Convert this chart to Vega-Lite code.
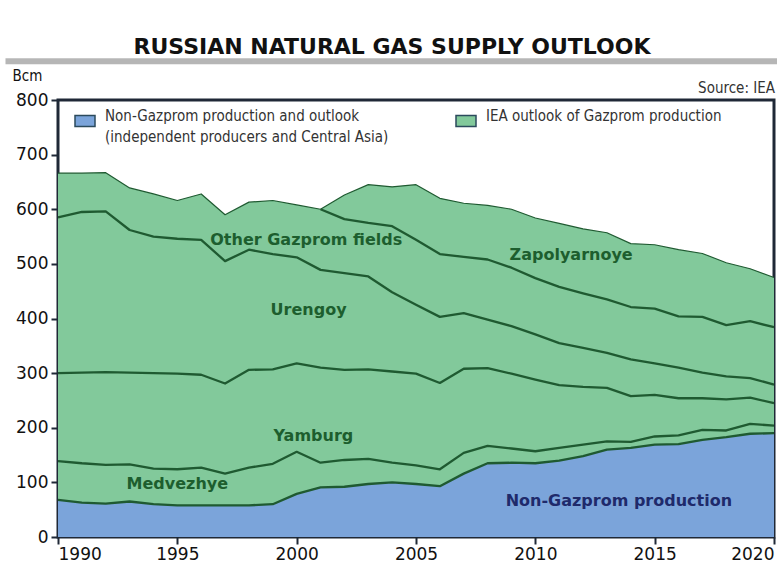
{
  "$schema": "https://vega.github.io/schema/vega-lite/v6.json",
  "width": 716,
  "height": 437,
  "autosize": {"type": "none"},
  "padding": {"left": 58, "top": 100, "right": 3, "bottom": 30},
  "background": "#ffffff",
  "title": {
    "text": "RUSSIAN NATURAL GAS SUPPLY OUTLOOK",
    "font": "DejaVu Sans",
    "fontWeight": "bold",
    "fontSize": 22,
    "color": "#111111",
    "anchor": "middle",
    "frame": "group",
    "dx": -24,
    "offset": -1
  },
  "config": {
    "view": {"stroke": "#1f2836", "strokeWidth": 3},
    "style": {"guide-label": {"lineHeight": 21}}
  },
  "datasets": {
    "gas": [
      {"year":1990,"field":"Non-Gazprom","source":"Non-Gazprom production and outlook","value":68},
      {"year":1990,"field":"Medvezhye","source":"IEA outlook of Gazprom production","value":71},
      {"year":1990,"field":"Yamburg","source":"IEA outlook of Gazprom production","value":161},
      {"year":1990,"field":"Urengoy","source":"IEA outlook of Gazprom production","value":285},
      {"year":1990,"field":"Other Gazprom fields","source":"IEA outlook of Gazprom production","value":81},
      {"year":1990,"field":"Zapolyarnoye","source":"IEA outlook of Gazprom production","value":0},
      {"year":1991,"field":"Non-Gazprom","source":"Non-Gazprom production and outlook","value":63},
      {"year":1991,"field":"Medvezhye","source":"IEA outlook of Gazprom production","value":72},
      {"year":1991,"field":"Yamburg","source":"IEA outlook of Gazprom production","value":166},
      {"year":1991,"field":"Urengoy","source":"IEA outlook of Gazprom production","value":294},
      {"year":1991,"field":"Other Gazprom fields","source":"IEA outlook of Gazprom production","value":71},
      {"year":1991,"field":"Zapolyarnoye","source":"IEA outlook of Gazprom production","value":0},
      {"year":1992,"field":"Non-Gazprom","source":"Non-Gazprom production and outlook","value":61},
      {"year":1992,"field":"Medvezhye","source":"IEA outlook of Gazprom production","value":71},
      {"year":1992,"field":"Yamburg","source":"IEA outlook of Gazprom production","value":170},
      {"year":1992,"field":"Urengoy","source":"IEA outlook of Gazprom production","value":294},
      {"year":1992,"field":"Other Gazprom fields","source":"IEA outlook of Gazprom production","value":71},
      {"year":1992,"field":"Zapolyarnoye","source":"IEA outlook of Gazprom production","value":0},
      {"year":1993,"field":"Non-Gazprom","source":"Non-Gazprom production and outlook","value":65},
      {"year":1993,"field":"Medvezhye","source":"IEA outlook of Gazprom production","value":68},
      {"year":1993,"field":"Yamburg","source":"IEA outlook of Gazprom production","value":168},
      {"year":1993,"field":"Urengoy","source":"IEA outlook of Gazprom production","value":261},
      {"year":1993,"field":"Other Gazprom fields","source":"IEA outlook of Gazprom production","value":77},
      {"year":1993,"field":"Zapolyarnoye","source":"IEA outlook of Gazprom production","value":0},
      {"year":1994,"field":"Non-Gazprom","source":"Non-Gazprom production and outlook","value":60},
      {"year":1994,"field":"Medvezhye","source":"IEA outlook of Gazprom production","value":65},
      {"year":1994,"field":"Yamburg","source":"IEA outlook of Gazprom production","value":175},
      {"year":1994,"field":"Urengoy","source":"IEA outlook of Gazprom production","value":250},
      {"year":1994,"field":"Other Gazprom fields","source":"IEA outlook of Gazprom production","value":78},
      {"year":1994,"field":"Zapolyarnoye","source":"IEA outlook of Gazprom production","value":0},
      {"year":1995,"field":"Non-Gazprom","source":"Non-Gazprom production and outlook","value":58},
      {"year":1995,"field":"Medvezhye","source":"IEA outlook of Gazprom production","value":66},
      {"year":1995,"field":"Yamburg","source":"IEA outlook of Gazprom production","value":175},
      {"year":1995,"field":"Urengoy","source":"IEA outlook of Gazprom production","value":247},
      {"year":1995,"field":"Other Gazprom fields","source":"IEA outlook of Gazprom production","value":70},
      {"year":1995,"field":"Zapolyarnoye","source":"IEA outlook of Gazprom production","value":0},
      {"year":1996,"field":"Non-Gazprom","source":"Non-Gazprom production and outlook","value":58},
      {"year":1996,"field":"Medvezhye","source":"IEA outlook of Gazprom production","value":69},
      {"year":1996,"field":"Yamburg","source":"IEA outlook of Gazprom production","value":170},
      {"year":1996,"field":"Urengoy","source":"IEA outlook of Gazprom production","value":247},
      {"year":1996,"field":"Other Gazprom fields","source":"IEA outlook of Gazprom production","value":84},
      {"year":1996,"field":"Zapolyarnoye","source":"IEA outlook of Gazprom production","value":0},
      {"year":1997,"field":"Non-Gazprom","source":"Non-Gazprom production and outlook","value":58},
      {"year":1997,"field":"Medvezhye","source":"IEA outlook of Gazprom production","value":58},
      {"year":1997,"field":"Yamburg","source":"IEA outlook of Gazprom production","value":165},
      {"year":1997,"field":"Urengoy","source":"IEA outlook of Gazprom production","value":224},
      {"year":1997,"field":"Other Gazprom fields","source":"IEA outlook of Gazprom production","value":85},
      {"year":1997,"field":"Zapolyarnoye","source":"IEA outlook of Gazprom production","value":0},
      {"year":1998,"field":"Non-Gazprom","source":"Non-Gazprom production and outlook","value":58},
      {"year":1998,"field":"Medvezhye","source":"IEA outlook of Gazprom production","value":69},
      {"year":1998,"field":"Yamburg","source":"IEA outlook of Gazprom production","value":179},
      {"year":1998,"field":"Urengoy","source":"IEA outlook of Gazprom production","value":220},
      {"year":1998,"field":"Other Gazprom fields","source":"IEA outlook of Gazprom production","value":87},
      {"year":1998,"field":"Zapolyarnoye","source":"IEA outlook of Gazprom production","value":0},
      {"year":1999,"field":"Non-Gazprom","source":"Non-Gazprom production and outlook","value":60},
      {"year":1999,"field":"Medvezhye","source":"IEA outlook of Gazprom production","value":74},
      {"year":1999,"field":"Yamburg","source":"IEA outlook of Gazprom production","value":173},
      {"year":1999,"field":"Urengoy","source":"IEA outlook of Gazprom production","value":211},
      {"year":1999,"field":"Other Gazprom fields","source":"IEA outlook of Gazprom production","value":98},
      {"year":1999,"field":"Zapolyarnoye","source":"IEA outlook of Gazprom production","value":0},
      {"year":2000,"field":"Non-Gazprom","source":"Non-Gazprom production and outlook","value":79},
      {"year":2000,"field":"Medvezhye","source":"IEA outlook of Gazprom production","value":77},
      {"year":2000,"field":"Yamburg","source":"IEA outlook of Gazprom production","value":162},
      {"year":2000,"field":"Urengoy","source":"IEA outlook of Gazprom production","value":194},
      {"year":2000,"field":"Other Gazprom fields","source":"IEA outlook of Gazprom production","value":96},
      {"year":2000,"field":"Zapolyarnoye","source":"IEA outlook of Gazprom production","value":0},
      {"year":2001,"field":"Non-Gazprom","source":"Non-Gazprom production and outlook","value":91},
      {"year":2001,"field":"Medvezhye","source":"IEA outlook of Gazprom production","value":45},
      {"year":2001,"field":"Yamburg","source":"IEA outlook of Gazprom production","value":174},
      {"year":2001,"field":"Urengoy","source":"IEA outlook of Gazprom production","value":179},
      {"year":2001,"field":"Other Gazprom fields","source":"IEA outlook of Gazprom production","value":111},
      {"year":2001,"field":"Zapolyarnoye","source":"IEA outlook of Gazprom production","value":0},
      {"year":2002,"field":"Non-Gazprom","source":"Non-Gazprom production and outlook","value":92},
      {"year":2002,"field":"Medvezhye","source":"IEA outlook of Gazprom production","value":49},
      {"year":2002,"field":"Yamburg","source":"IEA outlook of Gazprom production","value":165},
      {"year":2002,"field":"Urengoy","source":"IEA outlook of Gazprom production","value":177},
      {"year":2002,"field":"Other Gazprom fields","source":"IEA outlook of Gazprom production","value":99},
      {"year":2002,"field":"Zapolyarnoye","source":"IEA outlook of Gazprom production","value":44},
      {"year":2003,"field":"Non-Gazprom","source":"Non-Gazprom production and outlook","value":97},
      {"year":2003,"field":"Medvezhye","source":"IEA outlook of Gazprom production","value":46},
      {"year":2003,"field":"Yamburg","source":"IEA outlook of Gazprom production","value":164},
      {"year":2003,"field":"Urengoy","source":"IEA outlook of Gazprom production","value":170},
      {"year":2003,"field":"Other Gazprom fields","source":"IEA outlook of Gazprom production","value":98},
      {"year":2003,"field":"Zapolyarnoye","source":"IEA outlook of Gazprom production","value":70},
      {"year":2004,"field":"Non-Gazprom","source":"Non-Gazprom production and outlook","value":100},
      {"year":2004,"field":"Medvezhye","source":"IEA outlook of Gazprom production","value":36},
      {"year":2004,"field":"Yamburg","source":"IEA outlook of Gazprom production","value":167},
      {"year":2004,"field":"Urengoy","source":"IEA outlook of Gazprom production","value":145},
      {"year":2004,"field":"Other Gazprom fields","source":"IEA outlook of Gazprom production","value":121},
      {"year":2004,"field":"Zapolyarnoye","source":"IEA outlook of Gazprom production","value":72},
      {"year":2005,"field":"Non-Gazprom","source":"Non-Gazprom production and outlook","value":97},
      {"year":2005,"field":"Medvezhye","source":"IEA outlook of Gazprom production","value":34},
      {"year":2005,"field":"Yamburg","source":"IEA outlook of Gazprom production","value":168},
      {"year":2005,"field":"Urengoy","source":"IEA outlook of Gazprom production","value":126},
      {"year":2005,"field":"Other Gazprom fields","source":"IEA outlook of Gazprom production","value":119},
      {"year":2005,"field":"Zapolyarnoye","source":"IEA outlook of Gazprom production","value":101},
      {"year":2006,"field":"Non-Gazprom","source":"Non-Gazprom production and outlook","value":93},
      {"year":2006,"field":"Medvezhye","source":"IEA outlook of Gazprom production","value":31},
      {"year":2006,"field":"Yamburg","source":"IEA outlook of Gazprom production","value":158},
      {"year":2006,"field":"Urengoy","source":"IEA outlook of Gazprom production","value":121},
      {"year":2006,"field":"Other Gazprom fields","source":"IEA outlook of Gazprom production","value":115},
      {"year":2006,"field":"Zapolyarnoye","source":"IEA outlook of Gazprom production","value":102},
      {"year":2007,"field":"Non-Gazprom","source":"Non-Gazprom production and outlook","value":116},
      {"year":2007,"field":"Medvezhye","source":"IEA outlook of Gazprom production","value":38},
      {"year":2007,"field":"Yamburg","source":"IEA outlook of Gazprom production","value":154},
      {"year":2007,"field":"Urengoy","source":"IEA outlook of Gazprom production","value":102},
      {"year":2007,"field":"Other Gazprom fields","source":"IEA outlook of Gazprom production","value":103},
      {"year":2007,"field":"Zapolyarnoye","source":"IEA outlook of Gazprom production","value":98},
      {"year":2008,"field":"Non-Gazprom","source":"Non-Gazprom production and outlook","value":135},
      {"year":2008,"field":"Medvezhye","source":"IEA outlook of Gazprom production","value":32},
      {"year":2008,"field":"Yamburg","source":"IEA outlook of Gazprom production","value":142},
      {"year":2008,"field":"Urengoy","source":"IEA outlook of Gazprom production","value":89},
      {"year":2008,"field":"Other Gazprom fields","source":"IEA outlook of Gazprom production","value":110},
      {"year":2008,"field":"Zapolyarnoye","source":"IEA outlook of Gazprom production","value":99},
      {"year":2009,"field":"Non-Gazprom","source":"Non-Gazprom production and outlook","value":136},
      {"year":2009,"field":"Medvezhye","source":"IEA outlook of Gazprom production","value":26},
      {"year":2009,"field":"Yamburg","source":"IEA outlook of Gazprom production","value":137},
      {"year":2009,"field":"Urengoy","source":"IEA outlook of Gazprom production","value":87},
      {"year":2009,"field":"Other Gazprom fields","source":"IEA outlook of Gazprom production","value":107},
      {"year":2009,"field":"Zapolyarnoye","source":"IEA outlook of Gazprom production","value":107},
      {"year":2010,"field":"Non-Gazprom","source":"Non-Gazprom production and outlook","value":135},
      {"year":2010,"field":"Medvezhye","source":"IEA outlook of Gazprom production","value":22},
      {"year":2010,"field":"Yamburg","source":"IEA outlook of Gazprom production","value":131},
      {"year":2010,"field":"Urengoy","source":"IEA outlook of Gazprom production","value":83},
      {"year":2010,"field":"Other Gazprom fields","source":"IEA outlook of Gazprom production","value":103},
      {"year":2010,"field":"Zapolyarnoye","source":"IEA outlook of Gazprom production","value":110},
      {"year":2011,"field":"Non-Gazprom","source":"Non-Gazprom production and outlook","value":140},
      {"year":2011,"field":"Medvezhye","source":"IEA outlook of Gazprom production","value":23},
      {"year":2011,"field":"Yamburg","source":"IEA outlook of Gazprom production","value":115},
      {"year":2011,"field":"Urengoy","source":"IEA outlook of Gazprom production","value":77},
      {"year":2011,"field":"Other Gazprom fields","source":"IEA outlook of Gazprom production","value":103},
      {"year":2011,"field":"Zapolyarnoye","source":"IEA outlook of Gazprom production","value":116},
      {"year":2012,"field":"Non-Gazprom","source":"Non-Gazprom production and outlook","value":148},
      {"year":2012,"field":"Medvezhye","source":"IEA outlook of Gazprom production","value":21},
      {"year":2012,"field":"Yamburg","source":"IEA outlook of Gazprom production","value":106},
      {"year":2012,"field":"Urengoy","source":"IEA outlook of Gazprom production","value":71},
      {"year":2012,"field":"Other Gazprom fields","source":"IEA outlook of Gazprom production","value":100},
      {"year":2012,"field":"Zapolyarnoye","source":"IEA outlook of Gazprom production","value":118},
      {"year":2013,"field":"Non-Gazprom","source":"Non-Gazprom production and outlook","value":160},
      {"year":2013,"field":"Medvezhye","source":"IEA outlook of Gazprom production","value":15},
      {"year":2013,"field":"Yamburg","source":"IEA outlook of Gazprom production","value":98},
      {"year":2013,"field":"Urengoy","source":"IEA outlook of Gazprom production","value":64},
      {"year":2013,"field":"Other Gazprom fields","source":"IEA outlook of Gazprom production","value":98},
      {"year":2013,"field":"Zapolyarnoye","source":"IEA outlook of Gazprom production","value":122},
      {"year":2014,"field":"Non-Gazprom","source":"Non-Gazprom production and outlook","value":163},
      {"year":2014,"field":"Medvezhye","source":"IEA outlook of Gazprom production","value":11},
      {"year":2014,"field":"Yamburg","source":"IEA outlook of Gazprom production","value":84},
      {"year":2014,"field":"Urengoy","source":"IEA outlook of Gazprom production","value":67},
      {"year":2014,"field":"Other Gazprom fields","source":"IEA outlook of Gazprom production","value":96},
      {"year":2014,"field":"Zapolyarnoye","source":"IEA outlook of Gazprom production","value":116},
      {"year":2015,"field":"Non-Gazprom","source":"Non-Gazprom production and outlook","value":169},
      {"year":2015,"field":"Medvezhye","source":"IEA outlook of Gazprom production","value":15},
      {"year":2015,"field":"Yamburg","source":"IEA outlook of Gazprom production","value":76},
      {"year":2015,"field":"Urengoy","source":"IEA outlook of Gazprom production","value":58},
      {"year":2015,"field":"Other Gazprom fields","source":"IEA outlook of Gazprom production","value":100},
      {"year":2015,"field":"Zapolyarnoye","source":"IEA outlook of Gazprom production","value":117},
      {"year":2016,"field":"Non-Gazprom","source":"Non-Gazprom production and outlook","value":170},
      {"year":2016,"field":"Medvezhye","source":"IEA outlook of Gazprom production","value":16},
      {"year":2016,"field":"Yamburg","source":"IEA outlook of Gazprom production","value":68},
      {"year":2016,"field":"Urengoy","source":"IEA outlook of Gazprom production","value":56},
      {"year":2016,"field":"Other Gazprom fields","source":"IEA outlook of Gazprom production","value":94},
      {"year":2016,"field":"Zapolyarnoye","source":"IEA outlook of Gazprom production","value":122},
      {"year":2017,"field":"Non-Gazprom","source":"Non-Gazprom production and outlook","value":178},
      {"year":2017,"field":"Medvezhye","source":"IEA outlook of Gazprom production","value":18},
      {"year":2017,"field":"Yamburg","source":"IEA outlook of Gazprom production","value":58},
      {"year":2017,"field":"Urengoy","source":"IEA outlook of Gazprom production","value":47},
      {"year":2017,"field":"Other Gazprom fields","source":"IEA outlook of Gazprom production","value":102},
      {"year":2017,"field":"Zapolyarnoye","source":"IEA outlook of Gazprom production","value":116},
      {"year":2018,"field":"Non-Gazprom","source":"Non-Gazprom production and outlook","value":183},
      {"year":2018,"field":"Medvezhye","source":"IEA outlook of Gazprom production","value":12},
      {"year":2018,"field":"Yamburg","source":"IEA outlook of Gazprom production","value":57},
      {"year":2018,"field":"Urengoy","source":"IEA outlook of Gazprom production","value":42},
      {"year":2018,"field":"Other Gazprom fields","source":"IEA outlook of Gazprom production","value":94},
      {"year":2018,"field":"Zapolyarnoye","source":"IEA outlook of Gazprom production","value":114},
      {"year":2019,"field":"Non-Gazprom","source":"Non-Gazprom production and outlook","value":189},
      {"year":2019,"field":"Medvezhye","source":"IEA outlook of Gazprom production","value":18},
      {"year":2019,"field":"Yamburg","source":"IEA outlook of Gazprom production","value":48},
      {"year":2019,"field":"Urengoy","source":"IEA outlook of Gazprom production","value":36},
      {"year":2019,"field":"Other Gazprom fields","source":"IEA outlook of Gazprom production","value":104},
      {"year":2019,"field":"Zapolyarnoye","source":"IEA outlook of Gazprom production","value":96},
      {"year":2020,"field":"Non-Gazprom","source":"Non-Gazprom production and outlook","value":190},
      {"year":2020,"field":"Medvezhye","source":"IEA outlook of Gazprom production","value":14},
      {"year":2020,"field":"Yamburg","source":"IEA outlook of Gazprom production","value":41},
      {"year":2020,"field":"Urengoy","source":"IEA outlook of Gazprom production","value":34},
      {"year":2020,"field":"Other Gazprom fields","source":"IEA outlook of Gazprom production","value":105},
      {"year":2020,"field":"Zapolyarnoye","source":"IEA outlook of Gazprom production","value":91}
    ],
    "labels": [
      {"label": "Other Gazprom fields", "year": 2000.4, "value": 543},
      {"label": "Urengoy", "year": 2000.5, "value": 415},
      {"label": "Yamburg", "year": 2000.7, "value": 185},
      {"label": "Medvezhye", "year": 1995.0, "value": 97},
      {"label": "Zapolyarnoye", "year": 2011.5, "value": 516},
      {"label": "Non-Gazprom production", "year": 2013.5, "value": 66}
    ]
  },
  "layer": [
    {
      "data": {"name": "gas"},
      "transform": [
        {"stack": "value", "groupby": ["year"], "as": ["v0", "v1"]}
      ],
      "mark": {"type": "area", "opacity": 1, "interpolate": "linear"},
      "encoding": {
        "x": {
          "field": "year", "type": "quantitative",
          "scale": {"domain": [1990, 2020], "nice": false, "zero": false},
          "axis": {
            "title": null, "values": [1990, 1995, 2000, 2005, 2010, 2015, 2020], "format": "d",
            "labelFlush": true, "domain": false, "grid": false,
            "tickSize": 7, "tickWidth": 2, "tickColor": "#1f2836",
            "labelFont": "DejaVu Sans", "labelFontSize": 17, "labelColor": "#111111", "labelPadding": 2
          }
        },
        "y": {
          "field": "v1", "type": "quantitative",
          "scale": {"domain": [0, 800], "nice": false},
          "axis": {
            "title": "Bcm", "titleAngle": 0, "titleAlign": "left", "titleBaseline": "alphabetic",
            "titleX": -46, "titleY": -20, "titleFont": "DejaVu Sans Condensed, Liberation Sans Narrow, DejaVu Sans",
            "titleFontSize": 15, "titleFontWeight": "normal", "titleColor": "#111111",
            "values": [0, 100, 200, 300, 400, 500, 600, 700, 800],
            "domain": false, "grid": false,
            "tickSize": 7, "tickWidth": 2, "tickColor": "#1f2836",
            "labelFont": "DejaVu Sans", "labelFontSize": 17, "labelColor": "#111111", "labelPadding": 3
          }
        },
        "y2": {"field": "v0"},
        "detail": {"field": "field"},
        "color": {
          "field": "source", "type": "nominal",
          "scale": {
            "domain": ["Non-Gazprom production and outlook", "IEA outlook of Gazprom production"],
            "range": ["#7ba4da", "#82c99b"]
          },
          "legend": {
            "title": null, "orient": "none", "legendX": 16, "legendY": 10,
            "direction": "horizontal", "columns": 2, "columnPadding": 64, "padding": 0,
            "symbolType": "M-1,-0.55H1V0.55H-1Z", "symbolSize": 400,
            "symbolStrokeColor": "#2b4a5c", "symbolStrokeWidth": 1.5, "symbolOpacity": 1,
            "labelFont": "DejaVu Sans Condensed, Liberation Sans Narrow, DejaVu Sans",
            "labelFontSize": 15, "labelColor": "#333333", "labelLimit": 420, "labelOffset": 9,
            "labelBaseline": "alphabetic",
            "labelExpr": "datum.label == 'Non-Gazprom production and outlook' ? ['Non-Gazprom production and outlook', '(independent producers and Central Asia)'] : [datum.label, ' ']"
          }
        }
      }
    },
    {
      "data": {"name": "gas"},
      "transform": [
        {"stack": "value", "groupby": ["year"], "as": ["v0", "v1"]},
        {"filter": "!(datum.field == 'Other Gazprom fields' && datum.year < 2001)"}
      ],
      "mark": {"type": "line", "interpolate": "linear", "strokeJoin": "round"},
      "encoding": {
        "x": {"field": "year", "type": "quantitative"},
        "y": {"field": "v1", "type": "quantitative"},
        "detail": {"field": "field"},
        "color": {"value": "#1f5a31"},
        "strokeWidth": {"condition": {"test": "datum.field == 'Zapolyarnoye'", "value": 1.2}, "value": 2.3}
      }
    },
    {
      "data": {"name": "labels"},
      "mark": {"type": "text", "font": "DejaVu Sans", "fontWeight": "bold", "fontSize": 16, "align": "center", "baseline": "middle"},
      "encoding": {
        "x": {"field": "year", "type": "quantitative"},
        "y": {"field": "value", "type": "quantitative"},
        "text": {"field": "label"},
        "color": {"condition": {"test": "datum.label == 'Non-Gazprom production'", "value": "#1f2a6b"}, "value": "#1d5e2e"}
      }
    },
    {
      "data": {"values": [{"note": "Source: IEA"}]},
      "mark": {"type": "text", "align": "right", "baseline": "alphabetic", "dy": -7, "dx": 1,
               "font": "DejaVu Sans Condensed, Liberation Sans Narrow, DejaVu Sans", "fontSize": 15, "color": "#333333"},
      "encoding": {
        "x": {"datum": 2020, "type": "quantitative"},
        "y": {"datum": 800, "type": "quantitative"},
        "text": {"field": "note"}
      }
    },
    {
      "data": {"values": [{"band": "title rule"}]},
      "mark": {"type": "rule", "color": "#a9a9a9", "strokeWidth": 6, "opacity": 0.85},
      "encoding": {
        "x": {"datum": 1987.8, "type": "quantitative"},
        "x2": {"datum": 2020.15},
        "y": {"datum": 871, "type": "quantitative"}
      }
    }
  ]
}
